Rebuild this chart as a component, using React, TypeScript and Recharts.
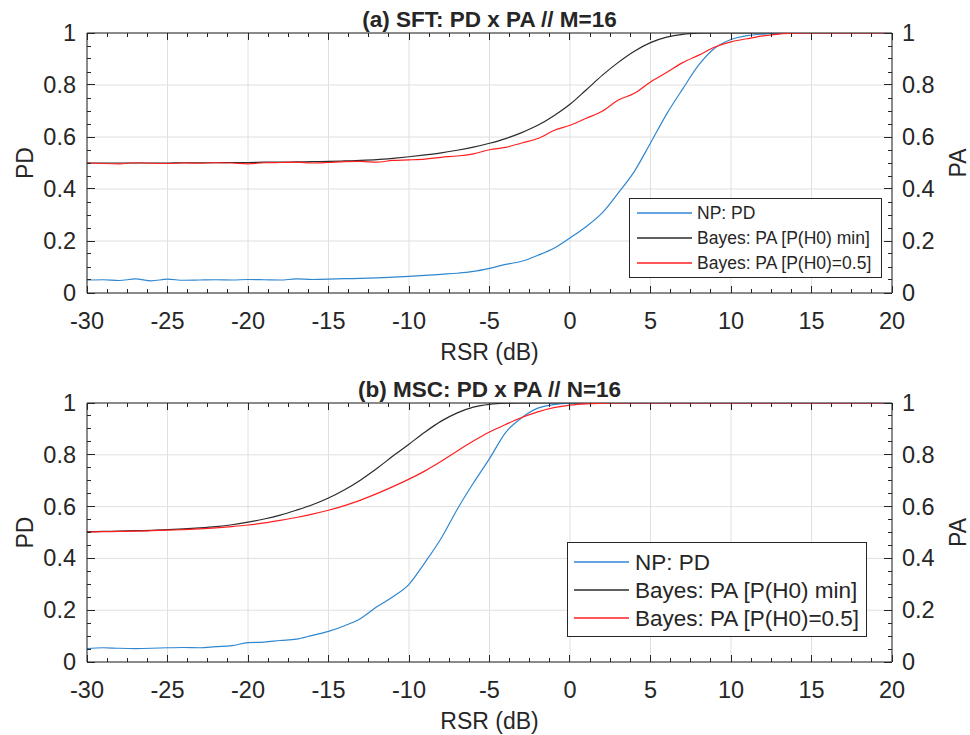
import React from 'react';
import { LineChart, Line, XAxis, YAxis, CartesianGrid, Legend, Label, ReferenceLine } from 'recharts';

// ---------- data ----------
const rsr = [
  -30, -29, -28, -27, -26, -25, -24, -23, -22, -21,
  -20, -19, -18, -17, -16, -15, -14, -13, -12, -11,
  -10, -9, -8, -7, -6, -5, -4, -3, -2, -1,
  0, 1, 2, 3, 4, 5, 6, 7, 8, 9,
  10, 11, 12, 13, 14, 15, 16, 17, 18, 19, 20,
];

// (a) SFT
const sftNP = [
  0.050, 0.051, 0.048, 0.054, 0.047, 0.053, 0.049, 0.050, 0.051, 0.050,
  0.052, 0.051, 0.050, 0.054, 0.052, 0.053, 0.055, 0.056, 0.058, 0.061,
  0.064, 0.068, 0.072, 0.076, 0.083, 0.095, 0.110, 0.122, 0.145, 0.172,
  0.212, 0.255, 0.308, 0.385, 0.468, 0.577, 0.688, 0.785, 0.877, 0.942,
  0.975, 0.990, 0.996, 0.999, 1, 1, 1, 1, 1, 1, 1,
];
const sftPAmin = [
  0.500, 0.500, 0.500, 0.500, 0.500, 0.500, 0.501, 0.501, 0.501, 0.502,
  0.502, 0.503, 0.503, 0.504, 0.505, 0.506, 0.508, 0.510, 0.513, 0.518,
  0.524, 0.531, 0.539, 0.549, 0.561, 0.576, 0.594, 0.617, 0.645, 0.682,
  0.726, 0.781, 0.837, 0.887, 0.930, 0.963, 0.984, 0.995, 0.999, 1,
  1, 1, 1, 1, 1, 1, 1, 1, 1, 1, 1,
];
const sftPA05 = [
  0.500, 0.498, 0.497, 0.501, 0.499, 0.498, 0.500, 0.499, 0.501, 0.500,
  0.497, 0.501, 0.502, 0.503, 0.500, 0.502, 0.505, 0.506, 0.503, 0.510,
  0.512, 0.515, 0.522, 0.527, 0.535, 0.551, 0.560, 0.577, 0.594, 0.625,
  0.645, 0.672, 0.699, 0.742, 0.768, 0.812, 0.848, 0.886, 0.915, 0.946,
  0.966, 0.978, 0.989, 0.996, 0.999, 1, 1, 1, 1, 1, 1,
];

// (b) MSC
const mscNP = [
  0.052, 0.055, 0.053, 0.052, 0.053, 0.055, 0.056, 0.055, 0.059, 0.063,
  0.075, 0.077, 0.083, 0.088, 0.103, 0.118, 0.140, 0.168, 0.213, 0.252,
  0.300, 0.385, 0.478, 0.590, 0.691, 0.785, 0.886, 0.943, 0.980, 0.994,
  0.999, 1, 1, 1, 1, 1, 1, 1, 1, 1,
  1, 1, 1, 1, 1, 1, 1, 1, 1, 1, 1,
];
const mscPAmin = [
  0.503, 0.504, 0.505, 0.507, 0.508, 0.511, 0.514, 0.518, 0.523, 0.530,
  0.540, 0.552, 0.567, 0.586, 0.607, 0.633, 0.665, 0.703, 0.747, 0.795,
  0.841, 0.888, 0.930, 0.962, 0.984, 0.995, 0.999, 1, 1, 1,
  1, 1, 1, 1, 1, 1, 1, 1, 1, 1,
  1, 1, 1, 1, 1, 1, 1, 1, 1, 1, 1,
];
const mscPA05 = [
  0.502, 0.503, 0.504, 0.505, 0.507, 0.509, 0.511, 0.514, 0.518, 0.523,
  0.529, 0.537, 0.547, 0.558, 0.571, 0.586, 0.604, 0.625, 0.650, 0.677,
  0.706, 0.738, 0.775, 0.815, 0.853, 0.888, 0.917, 0.944, 0.966, 0.982,
  0.992, 0.997, 0.999, 1, 1, 1, 1, 1, 1, 1,
  1, 1, 1, 1, 1, 1, 1, 1, 1, 1, 1,
];

const seriesNames = ['NP: PD', 'Bayes: PA [P(H0) min]', 'Bayes: PA [P(H0)=0.5]'];
const seriesKeys = ['np', 'pamin', 'pa05'];
const seriesColors = ['#2f87d0', '#2b2b2b', '#ff1f1f'];

const xMajorTicks = [-30, -25, -20, -15, -10, -5, 0, 5, 10, 15, 20];
const xTickLabels = ['-30', '-25', '-20', '-15', '-10', '-5', '0', '5', '10', '15', '20'];
const yMajorTicks = [0, 0.2, 0.4, 0.6, 0.8, 1];
const yTickLabels = ['0', '0.2', '0.4', '0.6', '0.8', '1'];

const titles = ['(a) SFT: PD x PA // M=16', '(b) MSC: PD x PA // N=16'];
const xLabel = 'RSR (dB)';
const leftLabel = 'PD';
const rightLabel = 'PA';

// ---------- helpers ----------
const subdivide = (majors: number[], n: number) => {
  const out: number[] = [];
  for (let i = 0; i < majors.length - 1; i++) {
    const a = majors[i];
    const b = majors[i + 1];
    for (let k = 0; k < n; k++) out.push(+(a + ((b - a) * k) / n).toFixed(6));
  }
  out.push(majors[majors.length - 1]);
  return out;
};
const xAllTicks = subdivide(xMajorTicks, 4);
const yAllTicks = subdivide(yMajorTicks, 4);

const makeTable = (a: number[], b: number[], c: number[]) =>
  rsr.map((x, i) => ({ x, np: a[i], pamin: b[i], pa05: c[i] }));

const sftData = makeTable(sftNP, sftPAmin, sftPA05);
const mscData = makeTable(mscNP, mscPAmin, mscPA05);

const AX = '#262626';
const FONT = '"Liberation Sans", Arial, Helvetica, sans-serif';
const TICK_FS = 23.5;
const LABEL_FS = 23;

const findIdx = (arr: number[], v: number) => arr.findIndex((m) => Math.abs(m - v) < 1e-6);
const crisp = (v: number) => Math.round(v - 0.5) + 0.5;

// bottom axis ticks: draws inward ticks at the bottom and at the top border of the box
const xTick = (plotH: number) => (p: any) => {
  const v = p.payload.value;
  const idx = findIdx(xMajorTicks, v);
  const major = idx >= 0;
  const len = major ? 7 : 4;
  const cx = crisp(p.x);
  const topY = p.y - plotH;
  return (
    <g>
      <line x1={cx} x2={cx} y1={p.y} y2={p.y - len} stroke={AX} strokeWidth={1} />
      <line x1={cx} x2={cx} y1={topY} y2={topY + len} stroke={AX} strokeWidth={1} />
      {major && (
        <text x={p.x} y={p.y + 28} textAnchor="middle" dominantBaseline="central" fontSize={TICK_FS} fontFamily={FONT} fill={AX}>
          {xTickLabels[idx]}
        </text>
      )}
    </g>
  );
};

const yTick = (side: 'left' | 'right') => (p: any) => {
  const v = p.payload.value;
  const idx = findIdx(yMajorTicks, v);
  const major = idx >= 0;
  const len = major ? 8 : 4;
  const dir = side === 'left' ? 1 : -1;
  const cy = crisp(p.y);
  return (
    <g>
      <line x1={p.x} x2={p.x + dir * len} y1={cy} y2={cy} stroke={AX} strokeWidth={1} />
      {major && (
        <text
          x={side === 'left' ? p.x - 11 : p.x + 10}
          y={p.y}
          textAnchor={side === 'left' ? 'end' : 'start'}
          dominantBaseline="central"
          fontSize={TICK_FS}
          fontFamily={FONT}
          fill={AX}
        >
          {yTickLabels[idx]}
        </text>
      )}
    </g>
  );
};

type LegendCfg = { left: number; top: number; w: number; h: number; rows: number[]; lx1: number; lx2: number; tx: number; fs: number };

const makeLegend = (cfg: LegendCfg) => () => (
  <svg width={cfg.w} height={cfg.h} style={{ display: 'block' }}>
    <rect x={0.5} y={0.5} width={cfg.w - 1} height={cfg.h - 1} fill="#ffffff" stroke={AX} strokeWidth={1} />
    {seriesNames.map((name, i) => (
      <g key={i}>
        <line x1={cfg.lx1} x2={cfg.lx2} y1={cfg.rows[i]} y2={cfg.rows[i]} stroke={seriesColors[i]} strokeWidth={1.3} />
        <text x={cfg.tx} y={cfg.rows[i]} dominantBaseline="central" fontSize={cfg.fs} fontFamily={FONT} fill={AX}>
          {name}
        </text>
      </g>
    ))}
  </svg>
);

type PanelProps = { data: any[]; title: string; plotH: number; legend: LegendCfg };

const Panel = ({ data, title, plotH, legend }: PanelProps) => {
  const H = 370;
  const top = 33;
  const xAxisH = H - top - plotH;
  return (
    <LineChart width={970} height={H} data={data} margin={{ top, right: 0, bottom: 0, left: 0 }}>
      <CartesianGrid
        xAxisId="b"
        yAxisId="l"
        verticalValues={xMajorTicks}
        horizontalValues={yMajorTicks}
        stroke="#e0e0e0"
        strokeWidth={1}
      />
      <XAxis
        xAxisId="b"
        dataKey="x"
        type="number"
        domain={[-30, 20]}
        allowDataOverflow
        ticks={xAllTicks}
        interval={0}
        tickSize={0}
        tickMargin={0}
        tickLine={false}
        axisLine={{ stroke: AX, strokeWidth: 1 }}
        tick={xTick(plotH)}
        height={xAxisH}
      >
        <Label
          content={(p: any) => {
            const vb = p.viewBox || {};
            return (
              <text x={vb.x + vb.width / 2} y={vb.y + 59} textAnchor="middle" dominantBaseline="central" fontSize={LABEL_FS} fontFamily={FONT} fill={AX}>
                {xLabel}
              </text>
            );
          }}
        />
      </XAxis>
      <YAxis
        yAxisId="l"
        type="number"
        domain={[0, 1]}
        allowDataOverflow
        ticks={yAllTicks}
        interval={0}
        tickSize={0}
        tickMargin={0}
        tickLine={false}
        axisLine={{ stroke: AX, strokeWidth: 1 }}
        tick={yTick('left')}
        width={87}
      >
        <Label
          content={(p: any) => {
            const vb = p.viewBox || {};
            const cx = 25;
            const cy = vb.y + vb.height / 2;
            return (
              <g>
                <text x={cx} y={cy} transform={`rotate(-90, ${cx}, ${cy})`} textAnchor="middle" dominantBaseline="central" fontSize={LABEL_FS} fontFamily={FONT} fill={AX}>
                  {leftLabel}
                </text>
                <text x={489.5} y={vb.y - 14} textAnchor="middle" dominantBaseline="central" fontSize={22.5} fontWeight="bold" fontFamily={FONT} fill={AX}>
                  {title}
                </text>
              </g>
            );
          }}
        />
      </YAxis>
      <YAxis
        yAxisId="r"
        orientation="right"
        type="number"
        domain={[0, 1]}
        allowDataOverflow
        ticks={yAllTicks}
        interval={0}
        tickSize={0}
        tickMargin={0}
        tickLine={false}
        axisLine={{ stroke: AX, strokeWidth: 1 }}
        tick={yTick('right')}
        width={78}
      >
        <Label
          content={(p: any) => {
            const vb = p.viewBox || {};
            const cx = 958;
            const cy = vb.y + vb.height / 2;
            return (
              <text x={cx} y={cy} transform={`rotate(-90, ${cx}, ${cy})`} textAnchor="middle" dominantBaseline="central" fontSize={LABEL_FS} fontFamily={FONT} fill={AX}>
                {rightLabel}
              </text>
            );
          }}
        />
      </YAxis>
      <ReferenceLine xAxisId="b" yAxisId="l" y={1} stroke={AX} strokeWidth={1} />
      {seriesKeys.map((k, i) => (
        <Line
          key={k}
          xAxisId="b"
          yAxisId="l"
          dataKey={k}
          name={seriesNames[i]}
          stroke={seriesColors[i]}
          strokeWidth={1.2}
          type="monotone"
          dot={false}
          activeDot={false}
          isAnimationActive={false}
        />
      ))}
      <Legend
        layout="vertical"
        align="center"
        verticalAlign="middle"
        content={makeLegend(legend)}
        wrapperStyle={{ left: legend.left, top: legend.top, width: legend.w, height: legend.h, margin: 0, padding: 0 }}
      />
    </LineChart>
  );
};

const legendTop: LegendCfg = { left: 629, top: 198, w: 253, h: 80, rows: [15, 40, 65], lx1: 8, lx2: 63, tx: 68, fs: 17.5 };
const legendBottom: LegendCfg = { left: 567, top: 172, w: 300, h: 95, rows: [20, 48, 76], lx1: 7, lx2: 62, tx: 68, fs: 22.5 };

export default function App() {
  return (
    <div style={{ position: 'absolute', left: 0, top: 0, width: 970, height: 735, background: '#ffffff' }}>
      <div style={{ position: 'absolute', left: 0, top: 0 }}>
        <Panel data={sftData} title={titles[0]} plotH={260} legend={legendTop} />
      </div>
      <div style={{ position: 'absolute', left: 0, top: 370 }}>
        <Panel data={mscData} title={titles[1]} plotH={259} legend={legendBottom} />
      </div>
    </div>
  );
}
